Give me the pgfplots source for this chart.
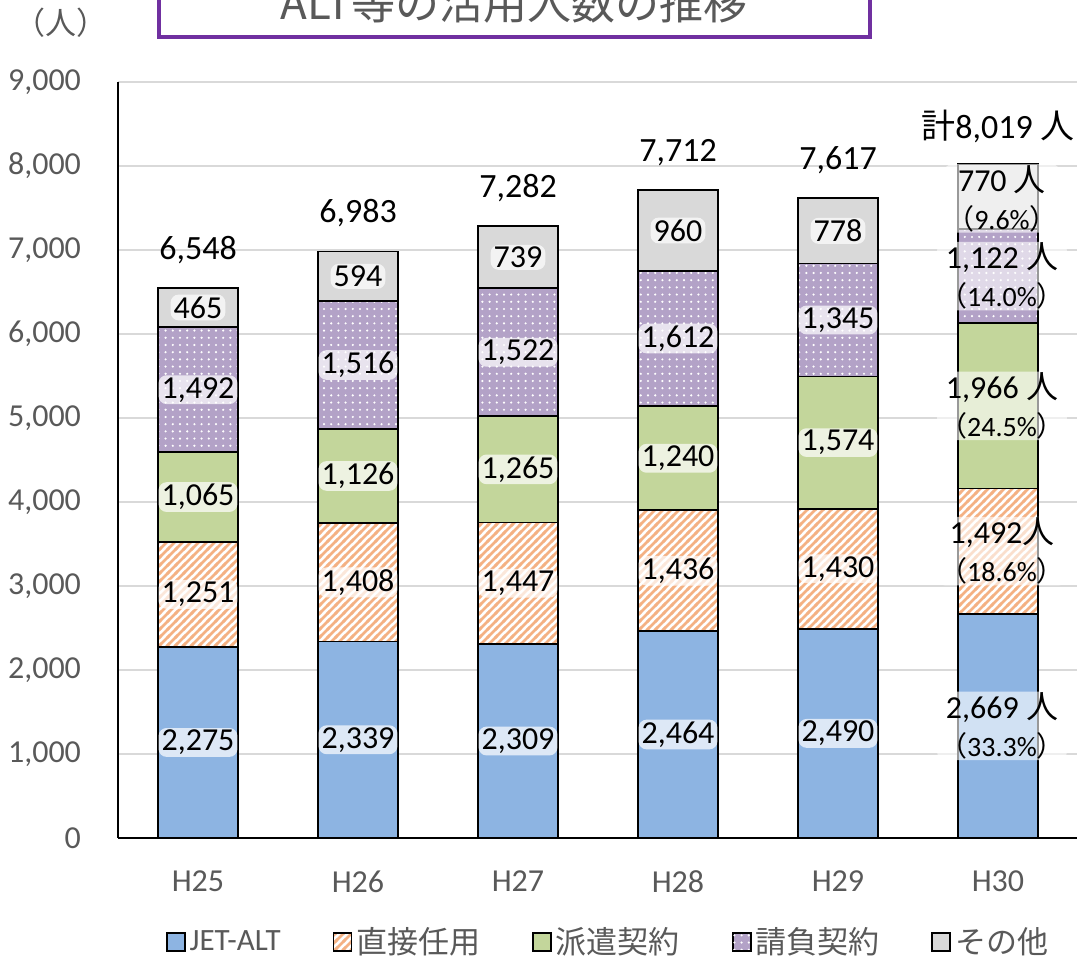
\documentclass[border=0pt]{standalone}
\usepackage{pgfplots}
\pgfplotsset{compat=1.18}
\usetikzlibrary{patterns}
\usepackage{fontspec}
\setmainfont{Carlito}
\newfontfamily\jp{Noto Sans CJK JP}
\definecolor{cjet}{HTML}{8DB4E2}
\definecolor{cdir}{HTML}{F4B183}
\definecolor{cdis}{HTML}{C3D69B}
\definecolor{ccon}{HTML}{B3A2C7}
\definecolor{coth}{HTML}{D9D9D9}
\definecolor{tgray}{HTML}{595959}
\definecolor{tpurple}{HTML}{7030A0}
\pgfdeclarepatternformonly{mylines}{\pgfqpoint{-1pt}{-1pt}}{\pgfqpoint{5pt}{5pt}}{\pgfqpoint{4pt}{4pt}}{%
  \pgfsetlinewidth{1.3pt}\pgfpathmoveto{\pgfqpoint{-1pt}{-1pt}}\pgfpathlineto{\pgfqpoint{5pt}{5pt}}\pgfusepath{stroke}}
\pgfdeclarepatternformonly{mydots}{\pgfqpoint{-1pt}{-1pt}}{\pgfqpoint{1pt}{1pt}}{\pgfqpoint{3.6pt}{3.6pt}}{%
  \pgfpathcircle{\pgfqpoint{0pt}{0pt}}{0.6pt}\pgfusepath{fill}}
\protected\def\pc#1{{\fontsize{14}{16}\selectfont{\jp （}#1\%{\jp ）}}}
\begin{document}
\begin{tikzpicture}
\begin{axis}[
  at={(59pt,59.5pt)}, anchor=south west,
  scale only axis, width=480pt, height=378pt,
  xmin=-0.5, xmax=5.5, ymin=0, ymax=9000,
  ybar stacked, bar width=40pt,
  axis x line*=bottom, axis y line*=left,
  axis line style={-, black, line width=1pt},
  major tick length=0pt,
  ymajorgrids, grid style={draw=black!15, line width=0.8pt},
  xtick={0,1,2,3,4,5}, xticklabels={H25,H26,H27,H28,H29,H30},
  ytick={0,1000,...,9000},
  scaled y ticks=false,
  /pgf/number format/1000 sep={,},
  /pgf/number format/assume math mode=true,
  yticklabel style={anchor=east, xshift=-15pt, text=tgray, font=\fontsize{16}{19}\selectfont},
  xticklabel style={anchor=north, yshift=-13pt, text=tgray, font=\fontsize{16}{19}\selectfont},
  legend columns=5,
  legend image code/.code={\draw[#1,draw=black,line width=0.8pt] (0pt,-4.5pt) rectangle (9pt,4.5pt);},
  legend style={at={(0.5115,-0.1376)}, anchor=center, draw=none, fill=none,
    font=\fontsize{15.5}{18}\selectfont, text=tgray,
    nodes={inner xsep=2pt},
    /tikz/every even column/.append style={column sep=24pt}},
]
\addplot[fill=cjet, draw=black, line width=0.9pt] coordinates {(0,2275) (1,2339) (2,2309) (3,2464) (4,2490) (5,2669)};
\addlegendentry{JET-ALT}
\addplot[preaction={fill=white}, pattern=mylines, pattern color=cdir, draw=black, line width=0.9pt] coordinates {(0,1251) (1,1408) (2,1447) (3,1436) (4,1430) (5,1492)};
\addlegendentry{\jp 直接任用}
\addplot[fill=cdis, draw=black, line width=0.9pt] coordinates {(0,1065) (1,1126) (2,1265) (3,1240) (4,1574) (5,1966)};
\addlegendentry{\jp 派遣契約}
\addplot[preaction={fill=ccon}, pattern=mydots, pattern color=white, draw=black, line width=0.9pt] coordinates {(0,1492) (1,1516) (2,1522) (3,1612) (4,1345) (5,1122)};
\addlegendentry{\jp 請負契約}
\addplot[fill=coth, draw=black, line width=0.9pt] coordinates {(0,465) (1,594) (2,739) (3,960) (4,778) (5,770)};
\addlegendentry{\jp その他}
\end{axis}
\begin{axis}[
  at={(59pt,59.5pt)}, anchor=south west,
  scale only axis, width=480pt, height=378pt,
  xmin=-0.5, xmax=5.5, ymin=0, ymax=9000,
  hide axis, clip=false,
]
\addplot[draw=none, mark=none, point meta=explicit symbolic,
  nodes near coords={\pgfplotspointmeta},
  nodes near coords style={anchor=center, font=\fontsize{16}{19}\selectfont, text=black,
    fill=white, fill opacity=0.7, text opacity=1, rounded corners=4pt, inner xsep=1.5pt, inner ysep=1pt}]
  coordinates {
  (0,1137.5)[2,275] (1,1169.5)[2,339] (2,1154.5)[2,309] (3,1232)[2,464] (4,1245)[2,490]
  (0,2900.5)[1,251] (1,3043)[1,408] (2,3032.5)[1,447] (3,3182)[1,436] (4,3205)[1,430]
  (0,4058.5)[1,065] (1,4310)[1,126] (2,4388.5)[1,265] (3,4520)[1,240] (4,4707)[1,574]
  (0,5337)[1,492] (1,5631)[1,516] (2,5782)[1,522] (3,5946)[1,612] (4,6166.5)[1,345]
  (0,6315.5)[465] (1,6686)[594] (2,6912.5)[739] (3,7232)[960] (4,7228)[778]
  };
\addplot[draw=none, mark=none, point meta=explicit symbolic,
  nodes near coords={\pgfplotspointmeta},
  nodes near coords style={anchor=center, align=center, xshift=2pt, font=\fontsize{16}{19}\selectfont, text=black,
    fill=white, fill opacity=0.6, text opacity=1, rounded corners=4pt, inner xsep=1pt, inner ysep=0.5pt}]
  coordinates {
  (5,1334.5)[2,669 {\jp 人}\\\pc{33.3}]
  (5,3415)[1,492{\jp 人}\\\pc{18.6}]
  (5,5144)[1,966 {\jp 人}\\\pc{24.5}]
  (5,6688)[1,122 {\jp 人}\\\pc{14.0}]
  (5,7614)[770 {\jp 人}\\\pc{9.6}]
  };
\addplot[draw=none, mark=none, point meta=explicit symbolic,
  nodes near coords={\pgfplotspointmeta},
  nodes near coords style={anchor=center, yshift=19pt, font=\fontsize{17}{20}\selectfont, text=black}]
  coordinates {
  (0,6548)[6,548] (1,6983)[6,983] (2,7282)[7,282] (3,7712)[7,712] (4,7617)[7,617] (5,8019)[{\jp 計}8,019 {\jp 人}]
  };
\end{axis}
\begin{scope}
\clip (0pt,0pt) rectangle (538.5pt,478.5pt);
\draw[tpurple, line width=2pt, fill=white] (79.5pt,460pt) rectangle (435pt,540pt);
\node[anchor=base, text=tgray, font=\fontsize{22}{26}\selectfont\jp] at (257pt,468.5pt) {ALT等の活用人数の推移};
\end{scope}
\node[text=tgray, font=\fontsize{15.5}{18}\selectfont\jp] at (30.5pt,467pt) {（人）};
\pgfresetboundingbox
\path[use as bounding box] (0pt,0pt) rectangle (538.5pt,478.5pt);
\end{tikzpicture}
\end{document}
